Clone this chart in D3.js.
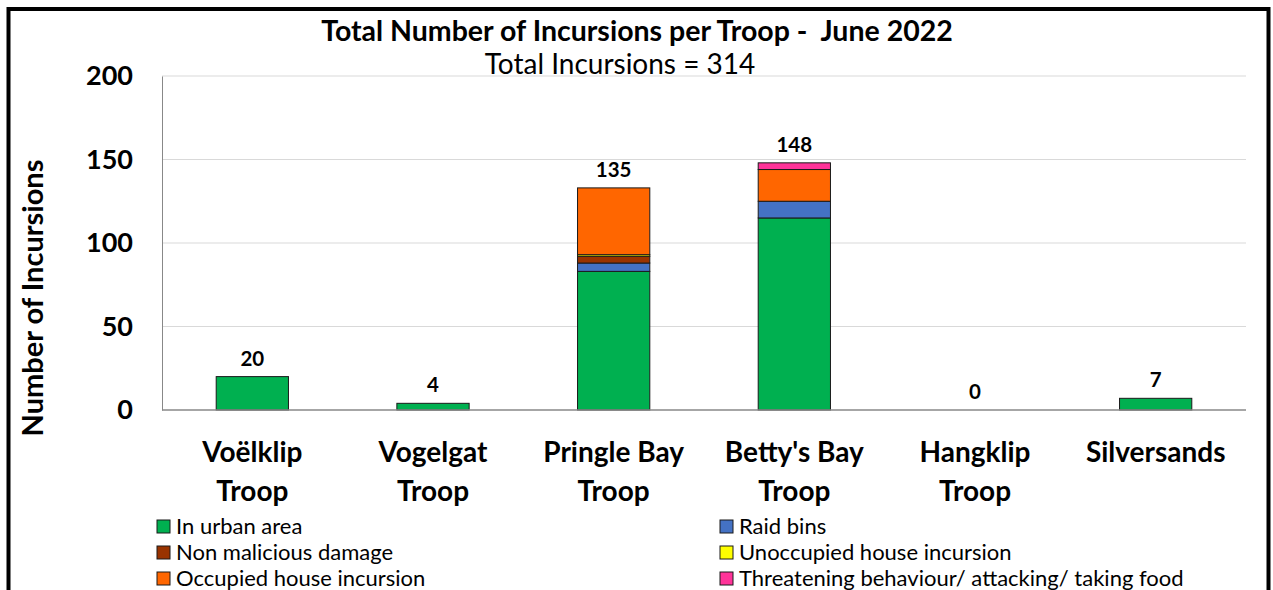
<!DOCTYPE html>
<html>
<head>
<meta charset="utf-8">
<script src="https://cdn.jsdelivr.net/npm/d3@7"></script>
<style>
  body { margin: 0; background: #fff; }
  text { font-family: Lato, "Open Sans", sans-serif; fill: #000; }
</style>
</head>
<body>
<div id="container-chart"></div>
<script>
// troops on the x axis (two lines each)
const troops = [
  ["Voëlklip", "Troop"],
  ["Vogelgat", "Troop"],
  ["Pringle Bay", "Troop"],
  ["Betty's Bay", "Troop"],
  ["Hangklip", "Troop"],
  ["Silversands", ""]
];

// series, stacked bottom to top
const seriesNames = [
  "In urban area",
  "Raid bins",
  "Non malicious damage",
  "Unoccupied house incursion",
  "Occupied house incursion",
  "Threatening behaviour/ attacking/ taking food"
];
const seriesColors = ["#00b050", "#4472c4", "#993300", "#ffff00", "#ff6600", "#ff3399"];

const urbanArea    = [20, 4, 83, 115, 0, 7];
const raidBins     = [0, 0, 5, 10, 0, 0];
const nonMalicious = [0, 0, 4, 0, 0, 0];
const unoccupied   = [0, 0, 1, 0, 0, 0];
const occupied     = [0, 0, 40, 19, 0, 0];
const threatening  = [0, 0, 0, 4, 0, 0];

// labels above each bar
const totals = [20, 4, 135, 148, 0, 7];

const yTicks = [0, 50, 100, 150, 200];

// legend order as shown (left column then right column)
const legendOrder = [0, 2, 4, 1, 3, 5];

const W = 1273, H = 590;
const plot = {left: 162, right: 1246, top: 76, bottom: 410};

const svg = d3.select("#container-chart")
  .append("svg")
  .attr("width", W)
  .attr("height", H);

// outer frame
svg.append("rect")
  .attr("x", 8.5).attr("y", 9)
  .attr("width", 1260).attr("height", 600)
  .attr("fill", "none")
  .attr("stroke", "#000")
  .attr("stroke-width", 4);

const x = d3.scaleBand()
  .domain(d3.range(troops.length))
  .range([plot.left, plot.right])
  .paddingInner(0.6)
  .paddingOuter(0.3);

const y = d3.scaleLinear()
  .domain([0, 200])
  .range([plot.bottom, plot.top]);

// gridlines
svg.append("g")
  .selectAll("line")
  .data(yTicks.filter(d => d > 0))
  .join("line")
  .attr("x1", plot.left).attr("x2", plot.right)
  .attr("y1", d => y(d)).attr("y2", d => y(d))
  .attr("stroke", "#d9d9d9")
  .attr("stroke-width", 1);

// y axis
const yAxis = svg.append("g")
  .attr("transform", "translate(" + plot.left + ",0)")
  .call(d3.axisLeft(y).tickValues(yTicks).tickSize(0).tickPadding(29));
yAxis.select(".domain").attr("stroke", "#888").attr("stroke-width", 1);
yAxis.selectAll("text")
  .style("font-family", "Lato, sans-serif")
  .style("font-size", "27px")
  .style("font-weight", "bold")
  .attr("fill", "#000");

// stacked data
const table = troops.map((t, i) => ({
  i: i,
  s0: urbanArea[i], s1: raidBins[i], s2: nonMalicious[i],
  s3: unoccupied[i], s4: occupied[i], s5: threatening[i]
}));
const keys = ["s0", "s1", "s2", "s3", "s4", "s5"];
const stacked = d3.stack().keys(keys)(table);

svg.append("g")
  .selectAll("g")
  .data(stacked)
  .join("g")
  .attr("fill", (d, k) => seriesColors[k])
  .selectAll("rect")
  .data(d => d.filter(p => p[1] - p[0] > 0))
  .join("rect")
  .attr("x", d => x(d.data.i))
  .attr("width", x.bandwidth())
  .attr("y", d => y(d[1]))
  .attr("height", d => y(d[0]) - y(d[1]))
  .attr("stroke", "#1a1a1a")
  .attr("stroke-width", 1);

// baseline
svg.append("line")
  .attr("x1", plot.left).attr("x2", plot.right)
  .attr("y1", y(0)).attr("y2", y(0))
  .attr("stroke", "#888")
  .attr("stroke-width", 1.5);

// total labels
const tops = troops.map((t, i) => d3.sum(keys, k => table[i][k]));
svg.append("g")
  .selectAll("text")
  .data(totals)
  .join("text")
  .attr("x", (d, i) => x(i) + x.bandwidth() / 2)
  .attr("y", (d, i) => y(tops[i]) - 11)
  .attr("text-anchor", "middle")
  .style("font-size", "20.5px")
  .style("font-weight", "bold")
  .text(d => d);

// category labels
const cat = svg.append("g")
  .selectAll("text")
  .data(troops)
  .join("text")
  .attr("text-anchor", "middle")
  .style("font-size", "28px")
  .style("font-weight", "bold");
cat.append("tspan")
  .attr("x", (d, i) => x(i) + x.bandwidth() / 2)
  .attr("y", 462)
  .text(d => d[0]);
cat.append("tspan")
  .attr("x", (d, i) => x(i) + x.bandwidth() / 2)
  .attr("y", 501)
  .text(d => d[1]);

// y axis title
svg.append("text")
  .attr("transform", "translate(43,298) rotate(-90)")
  .attr("text-anchor", "middle")
  .style("font-size", "29px")
  .style("font-weight", "bold")
  .text("Number of Incursions");

// titles
svg.append("text")
  .attr("x", 637).attr("y", 41)
  .attr("text-anchor", "middle")
  .style("font-size", "28.5px")
  .style("font-weight", "bold")
  .style("white-space", "pre")
  .text("Total Number of Incursions per Troop -  June 2022");
svg.append("text")
  .attr("x", 620).attr("y", 74)
  .attr("text-anchor", "middle")
  .style("font-size", "28px")
  .text("Total Incursions = " + d3.sum(totals));

// legend
const legend = svg.append("g")
  .selectAll("g")
  .data(legendOrder)
  .join("g")
  .attr("transform", (d, j) => "translate(" + (j < 3 ? 157 : 720) + "," + (526 + (j % 3) * 26) + ")");
legend.append("rect")
  .attr("x", 0).attr("y", -6)
  .attr("width", 13).attr("height", 13)
  .attr("fill", d => seriesColors[d])
  .attr("stroke", "#1a1a1a")
  .attr("stroke-width", 1);
legend.append("text")
  .attr("x", 19).attr("y", 8)
  .style("font-size", "22px")
  .text(d => seriesNames[d]);
</script>
</body>
</html>
